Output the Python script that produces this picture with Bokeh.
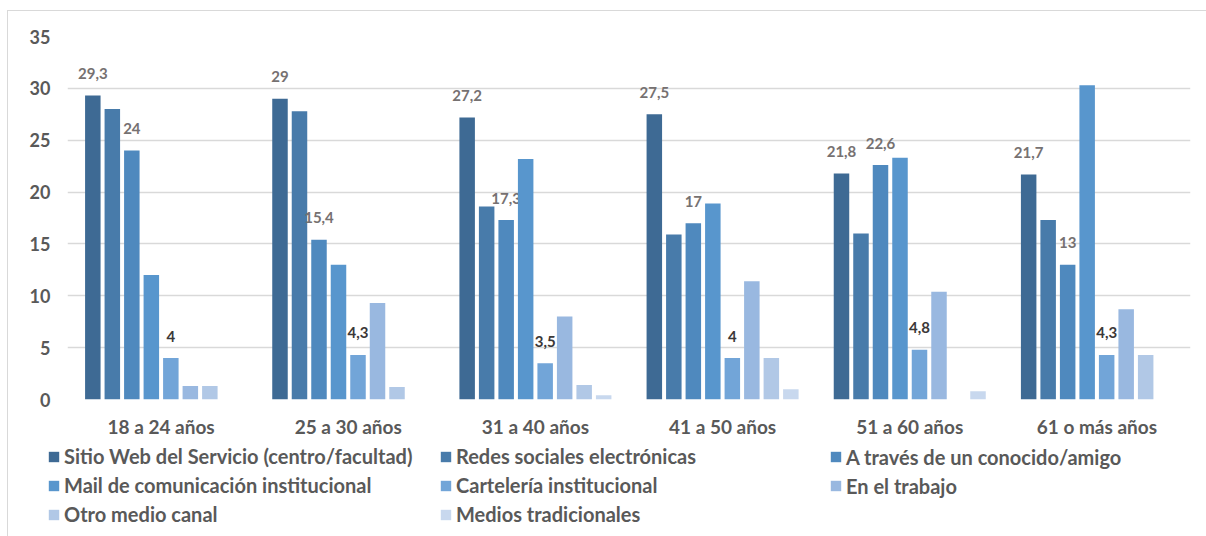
from bokeh.plotting import figure
from bokeh.models import ColumnDataSource, FactorRange, Range1d, Legend, LegendItem, FixedTicker
from bokeh.transform import dodge
from bokeh.core.properties import value
from bokeh.embed import file_html
from bokeh.resources import INLINE

categories = ["18 a 24 años", "25 a 30 años", "31 a 40 años", "41 a 50 años", "51 a 60 años", "61 o más años"]
series_names = [
    "Sitio Web del Servicio (centro/facultad)",
    "Redes sociales electrónicas",
    "A través de un conocido/amigo",
    "Mail de comunicación institucional",
    "Cartelería institucional",
    "En el trabajo",
    "Otro medio canal",
    "Medios tradicionales",
]
sitio_web = [29.3, 29, 27.2, 27.5, 21.8, 21.7]
redes_sociales = [28, 27.8, 18.6, 15.9, 16.0, 17.3]
conocido_amigo = [24, 15.4, 17.3, 17, 22.6, 13]
mail_institucional = [12, 13, 23.2, 18.9, 23.3, 30.3]
carteleria = [4, 4.3, 3.5, 4, 4.8, 4.3]
en_el_trabajo = [1.3, 9.3, 8.0, 11.4, 10.4, 8.7]
otro_medio = [1.3, 1.2, 1.4, 4, 0, 4.3]
medios_tradicionales = [0, 0, 0.4, 1, 0.8, 0]
y_ticks = [0, 5, 10, 15, 20, 25, 30, 35]

series = [sitio_web, redes_sociales, conocido_amigo, mail_institucional,
          carteleria, en_el_trabajo, otro_medio, medios_tradicionales]
colors = ["#3E6A94", "#487BAA", "#4F89BE", "#5896CD", "#72A5D8", "#99B8E0", "#B1C8E6", "#C8D8EE"]
labelled = {0: "#767171", 2: "#767171", 4: "#3B3838"}

FONT = "Lato"
BORDER = "#D9D9D9"

def fmt(v):
    return ("%g" % v).replace(".", ",")

data = {"cat": categories}
for i, s in enumerate(series):
    data["s%d" % i] = s
    data["l%d" % i] = [fmt(v) for v in s]
src = ColumnDataSource(data)

W = 1206
H_MAIN = 440
H_LEG = 96

p = figure(x_range=FactorRange(*categories, range_padding=0), y_range=Range1d(0, 35),
           width=W, height=H_MAIN, output_backend="svg", toolbar_location=None,
           min_border_left=67, min_border_right=16, min_border_top=36, min_border_bottom=41)
p.outline_line_color = None
p.background_fill_color = "white"
p.border_fill_color = None
p.styles = {
    "background-color": "white",
    "background-image": "linear-gradient(%s,%s), linear-gradient(%s,%s)" % (BORDER, BORDER, BORDER, BORDER),
    "background-position": "7px 10px, 7px 10px",
    "background-size": "1px 100%, 100% 1px",
    "background-repeat": "no-repeat, no-repeat",
}

pitch = 0.1042
bw = 0.0828
for i in range(8):
    off = (i - 3.5) * pitch
    p.vbar(x=dodge("cat", off, range=p.x_range), top="s%d" % i, width=bw, source=src,
           fill_color=colors[i], line_color=None)
    if i in labelled:
        p.text(x=dodge("cat", off, range=p.x_range), y="s%d" % i, text="l%d" % i, source=src,
               text_align="center", text_baseline="middle", y_offset=-22,
               text_font=value(FONT), text_font_style="bold", text_font_size="15px",
               text_color=labelled[i])

p.xgrid.grid_line_color = None
p.ygrid.grid_line_color = "#D9D9D9"
p.ygrid.grid_line_width = 1.5
p.yaxis.ticker = FixedTicker(ticks=y_ticks)
for ax in (p.xaxis[0], p.yaxis[0]):
    ax.axis_line_color = None
    ax.major_tick_line_color = None
    ax.minor_tick_line_color = None
    ax.major_tick_out = 0
    ax.major_tick_in = 0
    ax.minor_tick_out = 0
    ax.major_label_text_font = FONT
    ax.major_label_text_font_style = "bold"
    ax.major_label_text_color = "#595959"
    ax.major_label_text_font_size = "18px"
p.xaxis.major_label_text_font_size = "19px"
p.yaxis.major_label_standoff = 17
p.xaxis.major_label_standoff = 15

# legend panel (separate root so its frame is not aligned to the chart frame)
lf = figure(x_range=Range1d(0, 1), y_range=Range1d(0, 1), width=W, height=H_LEG,
            output_backend="svg", toolbar_location=None,
            min_border_left=0, min_border_right=0, min_border_top=0, min_border_bottom=0,
            x_axis_location=None, y_axis_location=None)
lf.outline_line_color = None
lf.xgrid.grid_line_color = None
lf.ygrid.grid_line_color = None
lf.background_fill_color = None
lf.border_fill_color = None
lf.styles = {
    "background-color": "white",
    "background-image": "linear-gradient(%s,%s)" % (BORDER, BORDER),
    "background-position": "7px 0px",
    "background-size": "1px 100%",
    "background-repeat": "no-repeat",
}
leg_renderers = [lf.vbar(x=[5], top=[0], width=0.01, fill_color=c, line_color=None) for c in colors]

cols = [[0, 3, 6], [1, 4, 7], [2, 5]]
xs = [47, 439, 829]
for col, x0 in zip(cols, xs):
    items = [LegendItem(label=series_names[i], renderers=[leg_renderers[i]]) for i in col]
    lg = Legend(items=items, location=(x0, 10 + 28.5 * (3 - len(col))), orientation="vertical",
                padding=0, margin=0, spacing=5, border_line_color=None, background_fill_alpha=0,
                glyph_width=13, glyph_height=13, label_standoff=4, label_height=20,
                label_text_font=FONT, label_text_font_style="bold",
                label_text_font_size="20px", label_text_color="#595959")
    lf.add_layout(lg, "center")

open("out.html", "w").write(file_html([p, lf], INLINE))
